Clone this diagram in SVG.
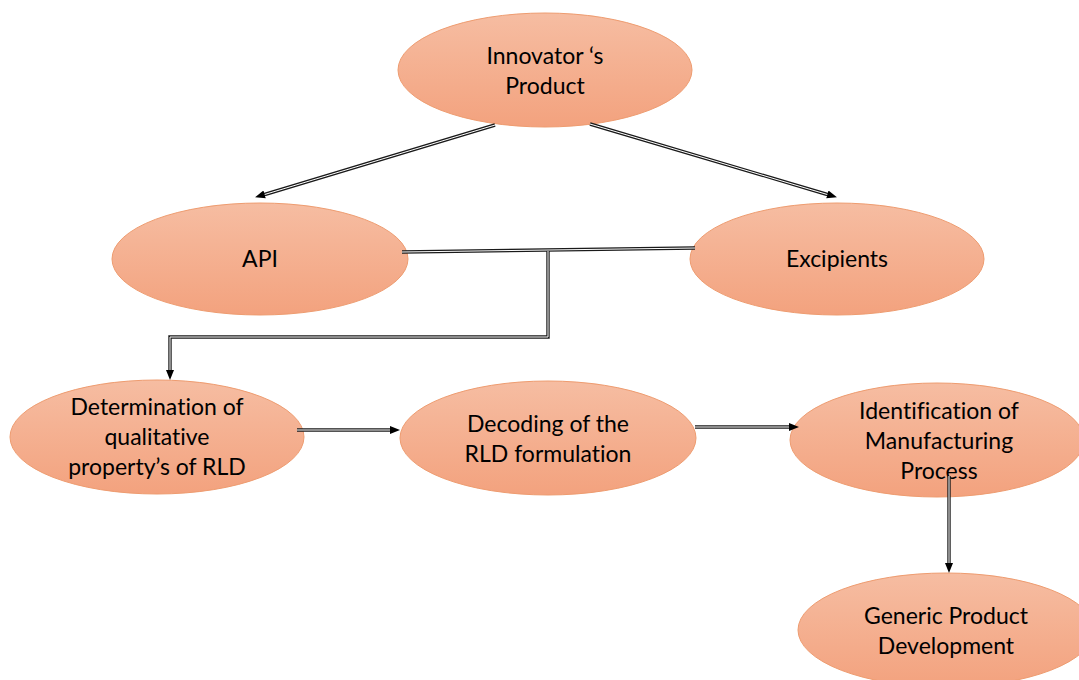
<svg xmlns="http://www.w3.org/2000/svg" width="1079" height="680" viewBox="0 0 1079 680">
<defs>
<linearGradient id="g" x1="0" y1="0" x2="0" y2="1">
<stop offset="0" stop-color="#F6BDA2"/>
<stop offset="1" stop-color="#F3A27E"/>
</linearGradient>
<marker id="ah" markerWidth="10" markerHeight="10" refX="9" refY="5" orient="auto" markerUnits="userSpaceOnUse">
<path d="M0,1 L10,5 L0,9 Z" fill="#000"/>
</marker>
</defs>
<style>
.n ellipse{fill:url(#g);stroke:#EE9C70;stroke-width:1}
.n text{font-family:Lato,"Open Sans",sans-serif;font-size:23px;fill:#000;text-anchor:middle;font-variant-ligatures:none}
.o{fill:none;stroke:#1a1a1a;stroke-width:3.4}
.i{fill:none;stroke:#fff;stroke-width:1}
</style>
<rect width="1079" height="680" fill="#fff"/>
<g id="n1" class="n"><ellipse cx="545" cy="70" rx="147" ry="57"/><text x="545" y="64">Innovator ‘s</text><text x="545" y="94">Product</text></g>
<g id="n2" class="n"><ellipse cx="260" cy="259" rx="148" ry="56"/><text x="260" y="267">API</text></g>
<g id="n3" class="n"><ellipse cx="837" cy="259" rx="147" ry="56"/><text x="837" y="267">Excipients</text></g>
<g id="n4" class="n"><ellipse cx="157" cy="437" rx="147" ry="57"/><text x="157" y="415">Determination of</text><text x="157" y="445">qualitative</text><text x="157" y="475">property’s of RLD</text></g>
<g id="n5" class="n"><ellipse cx="548" cy="438" rx="148" ry="57"/><text x="548" y="432">Decoding of the</text><text x="548" y="462">RLD formulation</text></g>
<g id="n6" class="n"><ellipse cx="937" cy="440" rx="147" ry="57"/><text x="939" y="419">Identification of</text><text x="939" y="449">Manufacturing</text><text x="939" y="479">Process</text></g>
<g id="n7" class="n"><ellipse cx="946" cy="630" rx="148" ry="57"/><text x="946" y="624">Generic Product</text><text x="946" y="654">Development</text></g>
<g id="connectors">
<g>
<path class="o" d="M495,125 L263,195"/><path class="i" d="M495,125 L263,195"/>
<line x1="490" y1="126.5" x2="256" y2="197" stroke="none" marker-end="url(#ah)"/>
</g>
<g>
<path class="o" d="M590,124 L829,195"/><path class="i" d="M590,124 L829,195"/>
<line x1="595" y1="125.5" x2="836" y2="197" stroke="none" marker-end="url(#ah)"/>
</g>
<g>
<path class="o" d="M402,252 L695,248"/><path class="i" d="M402,252 L695,248"/>
<path class="o" d="M548,251 L548,337 L170,337 L170,370"/><path class="i" d="M548,251 L548,337 L170,337 L170,370"/>
<line x1="170" y1="360" x2="170" y2="379" stroke="none" marker-end="url(#ah)"/>
</g>
<g>
<path class="o" d="M297,430 L390,430"/><path class="i" d="M297,430 L390,430"/>
<line x1="380" y1="430" x2="399" y2="430" stroke="none" marker-end="url(#ah)"/>
</g>
<g>
<path class="o" d="M695,427 L789,427"/><path class="i" d="M695,427 L789,427"/>
<line x1="780" y1="427" x2="798" y2="427" stroke="none" marker-end="url(#ah)"/>
</g>
<g>
<path class="o" d="M949,476 L949,563"/><path class="i" d="M949,476 L949,563"/>
<line x1="949" y1="550" x2="949" y2="572" stroke="none" marker-end="url(#ah)"/>
</g>
</g>
</svg>
